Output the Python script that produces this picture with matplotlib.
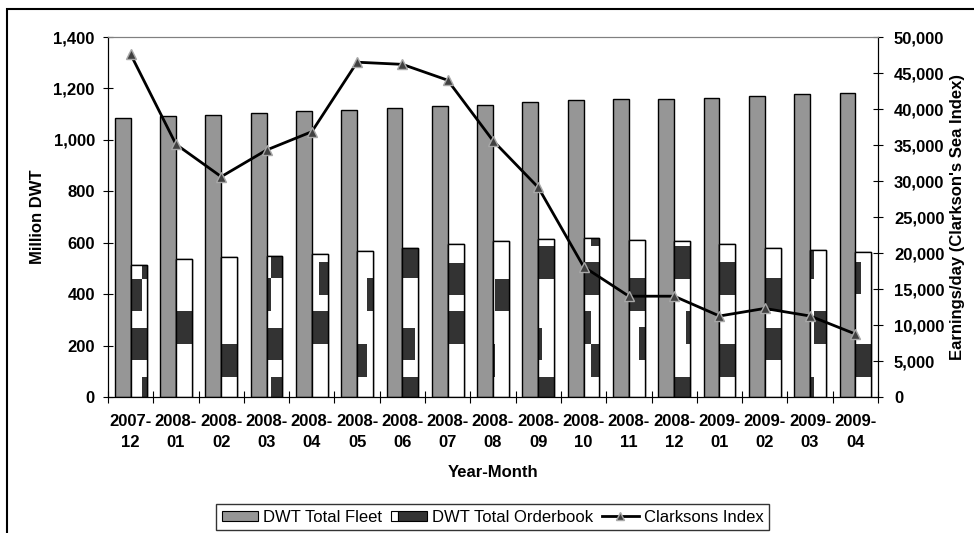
import numpy as np
import matplotlib
matplotlib.use('Agg')
import matplotlib.pyplot as plt
from matplotlib.patches import Rectangle, Patch
from matplotlib.lines import Line2D
from matplotlib.legend_handler import HandlerBase

plt.rcParams['font.family'] = ['Liberation Sans', 'DejaVu Sans']

# Datos
meses = ['2007-\n12', '2008-\n01', '2008-\n02', '2008-\n03', '2008-\n04', '2008-\n05',
         '2008-\n06', '2008-\n07', '2008-\n08', '2008-\n09', '2008-\n10', '2008-\n11',
         '2008-\n12', '2009-\n01', '2009-\n02', '2009-\n03', '2009-\n04']
flota = [1086, 1092, 1097, 1106, 1111, 1116, 1125, 1131, 1136, 1146, 1154, 1158,
         1158, 1163, 1172, 1177, 1182]
cartera = [513, 535, 545, 550, 555, 569, 581, 595, 606, 616, 620, 611, 606, 596,
           581, 570, 564]
clarksons = [47600, 35100, 30600, 34300, 36850, 46500, 46200, 44000, 35600, 29100,
             18100, 14000, 14000, 11250, 12300, 11250, 8750]

OSCURO = '#333333'
GRIS = '#969696'

# Estilo de la trama a cuadros de cada barra de cartera:
# (fraccion de corte, filas oscuras a la izquierda, filas oscuras a la derecha)
TEXTURA = [
    (0.70, {2, 3, 5, 6}, {0, 2, 3, 7}),
    (0.50, {3, 4}, {3, 4}),
    (0.50, {1, 2}, {1, 2}),
    (0.27, {2, 3, 5, 6}, {0, 2, 3, 7, 8}),
    (0.45, {3, 4}, {3, 4, 6, 7}),
    (0.65, {1, 2}, {5, 6}),
    (0.80, {0, 2, 3, 7, 8}, {0, 7, 8}),
    (0.50, {3, 4, 6, 7}, {3, 4, 6, 7}),
    (0.12, {1, 2}, {5, 6}),
    (0.28, {0, 2, 3, 7, 8}, {0, 7, 8}),
    (0.45, {3, 4, 6, 7}, {1, 2, 6, 7, 9}),
    (0.60, {5, 6}, {2, 3, 5, 6}),
    (0.78, {0, 7, 8}, {0, 3, 4, 7, 8}),
    (0.50, {1, 2, 6, 7}, {1, 2, 6, 7}),
    (0.50, {2, 3, 5, 6}, {2, 3, 5, 6}),
    (0.26, {0, 7, 8}, {3, 4}),
    (0.39, {1, 2, 6, 7}, {1, 2}),
]


class HandlerCartera(HandlerBase):
    # cuadro de leyenda: un poco de blanco y el resto oscuro
    def create_artists(self, legend, orig_handle, xdescent, ydescent, width, height,
                       fontsize, trans):
        w1 = width * 0.2
        r1 = Rectangle((-xdescent, -ydescent), w1, height, fc='white', ec='black',
                       lw=0.8, transform=trans)
        r2 = Rectangle((-xdescent + w1, -ydescent), width - w1, height, fc=OSCURO,
                       ec='black', lw=0.8, transform=trans)
        return [r1, r2]


fig = plt.figure(figsize=(9.74, 5.33), dpi=100)
ax = fig.add_axes([108 / 974, 1 - 397 / 533, 770 / 974, 360 / 533])
ax2 = ax.twinx()

x = np.arange(len(meses))
ancho = 0.35

ax.bar(x - ancho / 2, flota, ancho, color=GRIS, edgecolor='black', linewidth=1, zorder=2)
barras = ax.bar(x + ancho / 2, cartera, ancho, color='white', edgecolor='black',
                linewidth=1, zorder=2)

# trama: filas de ~16 px (la primera mas alta), pegada a cada barra
yy = np.arange(0, 700) + 0.5
fila = np.where(yy < 79, 0, 1 + np.floor((yy - 79) / 63.4)).astype(int)
ncol = 100
for b, (corte, izq, der) in zip(barras, TEXTURA):
    img = np.ones((len(yy), ncol, 3))
    jc = int(round(corte * ncol))
    img[np.isin(fila, list(izq)), :jc] = 0.2
    img[np.isin(fila, list(der)), jc:] = 0.2
    bx = b.get_x()
    im = ax.imshow(img, extent=(bx, bx + b.get_width(), 0, len(yy)), origin='lower',
                   aspect='auto', interpolation='nearest', zorder=2.1)
    im.set_clip_path(b)
ax.bar(x + ancho / 2, cartera, ancho, fill=False, edgecolor='black', linewidth=1,
       zorder=2.2)

ax.set_xlim(-0.5, len(meses) - 0.5)
ax.set_ylim(0, 1400)
ax.set_yticks(np.arange(0, 1401, 200))
ax.set_yticklabels([f'{v:,}' for v in range(0, 1401, 200)])
ax.set_xticks(x)
ax.set_xticklabels(meses, fontweight='bold', fontsize=12, linespacing=1.5)
ax.set_xticks(np.arange(-0.5, len(meses), 1), minor=True)
ax.tick_params(axis='x', which='major', length=0, pad=12)
ax.tick_params(axis='x', which='minor', length=8, direction='inout', width=0.8)
ax.tick_params(axis='y', length=7, direction='inout', width=0.8, labelsize=12, pad=6)
for t in ax.get_yticklabels():
    t.set_fontweight('bold')

ax2.plot(x, clarksons, color='black', linewidth=2, marker='^', markersize=7,
         markerfacecolor='#404040', markeredgecolor='#a8a8a8', markeredgewidth=1,
         zorder=3)
ax2.set_ylim(0, 50000)
ax2.set_yticks(np.arange(0, 50001, 5000))
ax2.set_yticklabels([f'{v:,}' for v in range(0, 50001, 5000)])
ax2.tick_params(axis='y', length=7, direction='inout', width=0.8, labelsize=12, pad=8)
for t in ax2.get_yticklabels():
    t.set_fontweight('bold')

for a in (ax, ax2):
    a.spines['top'].set_color('#808080')
    a.spines['top'].set_linewidth(0.8)
    a.spines['left'].set_linewidth(0.8)
    a.spines['right'].set_linewidth(0.8)
    a.spines['bottom'].set_linewidth(0.8)

ax.set_ylabel('Million DWT', fontweight='bold', fontsize=12, labelpad=6)
ax2.set_ylabel("Earnings/day (Clarkson's Sea Index)", fontweight='bold', fontsize=12,
               labelpad=4)
ax.set_xlabel('Year-Month', fontweight='bold', fontsize=12, labelpad=11)

h_flota = Patch(facecolor=GRIS, edgecolor='black', linewidth=0.8)
h_cartera = Patch(facecolor=OSCURO, edgecolor='black')
h_linea = Line2D([], [], color='black', linewidth=2, marker='^', markersize=6,
                 markerfacecolor='#404040', markeredgecolor='#a8a8a8')
leg = fig.legend([h_flota, h_cartera, h_linea],
                 ['DWT Total Fleet', 'DWT Total Orderbook', 'Clarksons Index'],
                 handler_map={h_cartera: HandlerCartera()},
                 loc='center', bbox_to_anchor=(492.5 / 974, 1 - 517 / 533), ncol=3,
                 fontsize=12, frameon=True, fancybox=False, edgecolor='black',
                 handlelength=2.2, handleheight=0.55, handletextpad=0.3,
                 columnspacing=0.5, borderpad=0.35, borderaxespad=0)
leg.get_frame().set_linewidth(1)

# marco exterior del grafico
fig.patches.append(Rectangle((7 / 974, -0.2), 1.2, 1.2 - 9 / 533,
                             transform=fig.transFigure, fill=False, edgecolor='black',
                             linewidth=1.5))

fig.savefig('out.png', dpi=100)
